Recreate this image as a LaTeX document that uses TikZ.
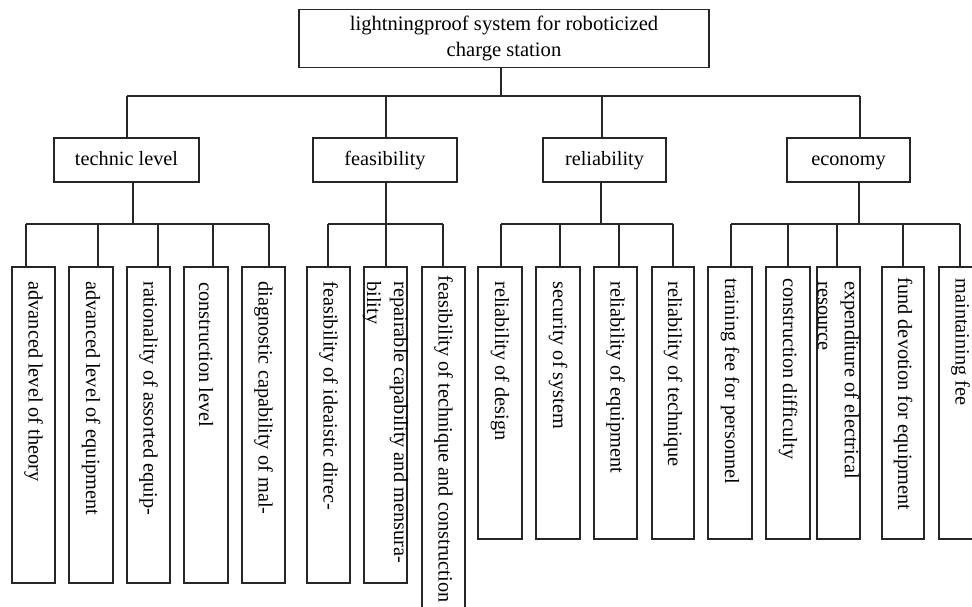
\documentclass[tikz,border=0pt]{standalone}
\usepackage{fontspec}
\setmainfont{Liberation Serif}
\begin{document}
\begin{tikzpicture}[x=1pt,y=-1pt,
  font=\fontsize{20.3}{27}\selectfont,
  conn/.style={draw=black!85, line width=1.3pt},
  box/.style={draw=black!85, line width=1.3pt, rectangle, inner sep=0pt, align=center},
  midbox/.style={box, minimum height=44pt, text height=14pt, text depth=4pt},
  leaf/.style={draw=black!85, line width=1.3pt, rectangle, inner sep=0pt},
  leaftext/.style={rotate=-90, anchor=west, inner sep=0pt, align=left, text=black}]
\useasboundingbox (0,0) rectangle (972,606);
\clip (0,0) rectangle (972,606);
% root
\node[box, minimum width=410pt, minimum height=58pt, font=\fontsize{20.6}{26.5}\selectfont] (root) at (504,38.5)
  {lightningproof system for roboticized\\charge station};
% level 2
\node[midbox, minimum width=145pt] (tech) at (126.5,160) {technic level};
\node[midbox, minimum width=144pt] (feas) at (385,160) {feasibility};
\node[midbox, minimum width=123pt] (reli) at (604.5,160) {reliability};
\node[midbox, minimum width=123pt] (econ) at (848.5,160) {economy};
% root connectors
\coordinate (h0) at (501,96);
\coordinate (h1) at (127,96);
\coordinate (h2) at (386,96);
\coordinate (h3) at (602,96);
\coordinate (h4) at (860,96);
\draw[conn] (root.south -| h0) -- (h0);
\draw[conn] (h1) -- (h4);
\draw[conn] (h1) -- (h1 |- tech.north);
\draw[conn] (h2) -- (h2 |- feas.north);
\draw[conn] (h3) -- (h3 |- reli.north);
\draw[conn] (h4) -- (h4 |- econ.north);
% leaves
\foreach \n/\l/\r/\b/\d/\o/\txt in {
  La/12/55/583/26/15/{advanced level of theory},
  Lb/69/113/583/98/15/{advanced level of equipment},
  Lc/127/170/583/158/15/{rationality of assorted equip-},
  Ld/184/228/583/213/16/{construction level},
  Le/242/285/583/269/15/{diagnostic capability of mal-},
  Lf/307/350/583/328/15/{feasibility of ideaistic direc-},
  Lg/364/407/583/386/15/{repairable capability and mensura-\\bility},
  Lh/422/465/630/443/9/{feasibility of technique and construction},
  Li/478/522/539/501/15/{reliability of design},
  Lj/536/580/539/560/15/{security of system},
  Lk/594/637/539/619/15/{reliability of equipment},
  Ll/652/694/539/673/15/{reliability of technique},
  Lm/708/752/539/731/12/{training fee for personnel},
  Ln/766/810/539/788/12/{construction difficulty},
  Lo/817/860/539/837/15/{expenditure of electrical\\resource},
  Lp/882/924/539/903/11/{fund devotion for equipment},
  Lq/939/982/539/960/12/{maintaining fee}}
{
  \node[leaf, minimum width={(\r-\l)*1pt}, minimum height={(\b-267)*1pt}] (\n) at ({(\l+\r)/2},{(267+\b)/2}) {};
  \node[leaftext] (\n-t) at ([yshift=-\o pt]\n.north) {\txt};
  \coordinate (\n-d) at (\d,224);
  \draw[conn] (\n-d) -- (\n-d |- \n.north);
}
% group bars and stems
\coordinate (s1) at (133,224);
\coordinate (s2) at (386,224);
\coordinate (s3) at (601,224);
\coordinate (s4) at (859,224);
\draw[conn] (La-d) -- (Le-d);
\draw[conn] (Lf-d) -- (Lh-d);
\draw[conn] (Li-d) -- (Ll-d);
\draw[conn] (Lm-d) -- (Lq-d);
\draw[conn] (tech.south -| s1) -- (s1);
\draw[conn] (feas.south -| s2) -- (s2);
\draw[conn] (reli.south -| s3) -- (s3);
\draw[conn] (econ.south -| s4) -- (s4);
\end{tikzpicture}
\end{document}
